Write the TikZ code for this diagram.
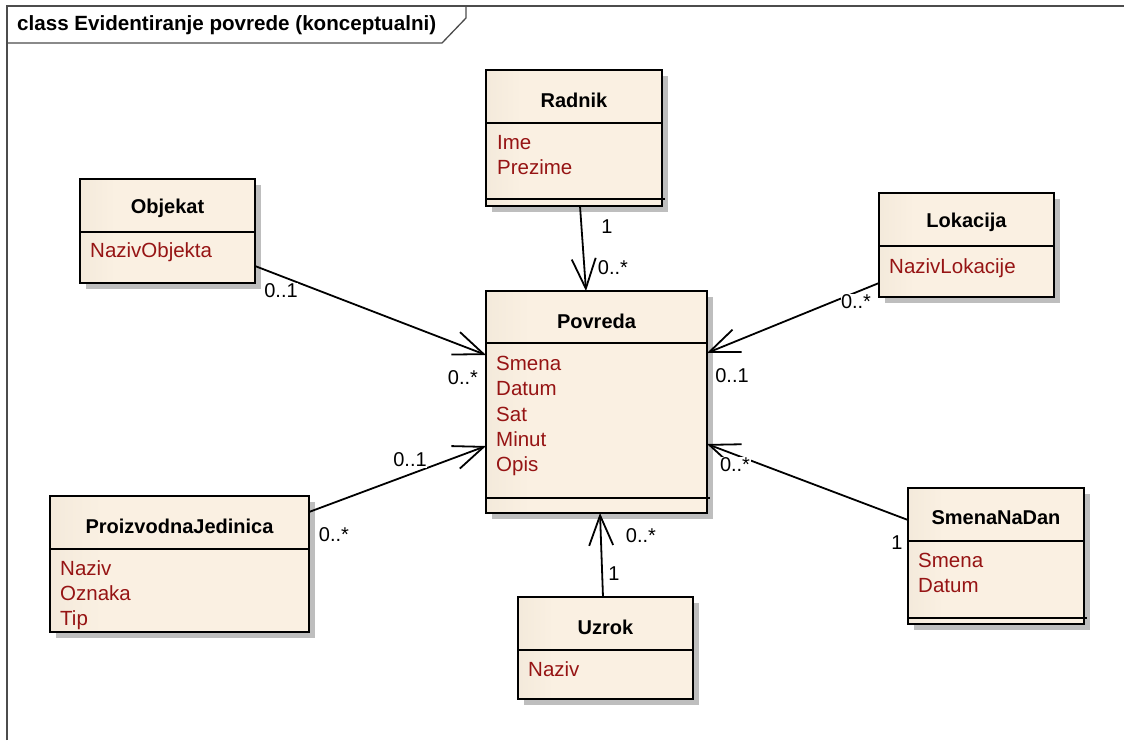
\documentclass[tikz,border=0pt]{standalone}
\usepackage{fontspec}
\setmainfont{Liberation Sans}
\usepackage{tikz}
\usetikzlibrary{arrows.meta,shadows}
\usepackage{color}

\definecolor{boxleft}{RGB}{228,218,202}
\definecolor{boxright}{RGB}{250,240,226}
\definecolor{attrred}{RGB}{150,20,20}
\definecolor{shadowgray}{RGB}{190,190,190}
\pgfdeclarehorizontalshading{classfill}{100bp}{color(0bp)=(boxleft); color(35bp)=(boxright); color(100bp)=(boxright)}

\tikzset{
  classbox/.style={draw, line width=1.8pt, shading=classfill, outer sep=0pt, inner sep=0pt,
    drop shadow={shadow xshift=6pt, shadow yshift=-6pt, fill=shadowgray, opacity=1}},
  classline/.style={line width=1.8pt},
  classname/.style={font=\bfseries\fontsize{20}{23}\selectfont, inner sep=0pt},
  classattr/.style={anchor=north west, align=left, inner sep=0pt, text=attrred,
    font=\fontsize{20.5}{25.3}\selectfont},
  assoc/.style={line width=1.8pt, -{Straight Barb[length=30pt,width=24pt]}},
  mult/.style={fill=white, inner sep=0.5pt, font=\fontsize{20}{22}\selectfont}
}

\begin{document}
\begin{tikzpicture}[x=1pt,y=-1pt]

 \useasboundingbox (0,0) rectangle (1124,740);

 % le cadre du diagramme
 \draw[line width=1.3pt, draw=black!70] (7,740) -- (7,6) -- (1124,6);
 \draw[line width=1.3pt, draw=black!70] (7,43) -- (442,43) -- (466,18) -- (466,6);
 \node[anchor=west, font=\bfseries\fontsize{20.6}{23}\selectfont, inner sep=0pt] (titre) at (17,25) {class Evidentiranje povrede (konceptualni)};

 % Radnik
 \node[classbox, minimum width=176, minimum height=136] (radnik) at (574,138) {};
 \draw[classline] ([yshift=-53]radnik.north west) -- ([yshift=-53]radnik.north east);
 \node[classname] (radnik-name) at ([yshift=-30]radnik.north) {Radnik};
 \node[classattr] (radnik-attr) at ([xshift=11,yshift=-65]radnik.north west) {Ime\\Prezime};
 \draw[classline] ([yshift=7]radnik.south west) -- ([xshift=3,yshift=7]radnik.south east);

 % Objekat
 \node[classbox, minimum width=175, minimum height=104] (objekat) at (167.5,231) {};
 \draw[classline] ([yshift=-53]objekat.north west) -- ([yshift=-53]objekat.north east);
 \node[classname] (objekat-name) at ([yshift=-29]objekat.north) {Objekat};
 \node[classattr] (objekat-attr) at ([xshift=10,yshift=-63]objekat.north west) {NazivObjekta};

 % Povreda
 \node[classbox, minimum width=221, minimum height=222] (povreda) at (596.5,402) {};
 \draw[classline] ([yshift=-52]povreda.north west) -- ([yshift=-52]povreda.north east);
 \node[classname] (povreda-name) at ([yshift=-30]povreda.north) {Povreda};
 \node[classattr] (povreda-attr) at ([xshift=10,yshift=-65]povreda.north west) {Smena\\Datum\\Sat\\Minut\\Opis};
 \draw[classline] ([yshift=15]povreda.south west) -- ([xshift=3,yshift=15]povreda.south east);

 % Lokacija
 \node[classbox, minimum width=175, minimum height=104] (lokacija) at (966.5,245) {};
 \draw[classline] ([yshift=-53]lokacija.north west) -- ([yshift=-53]lokacija.north east);
 \node[classname] (lokacija-name) at ([yshift=-29]lokacija.north) {Lokacija};
 \node[classattr] (lokacija-attr) at ([xshift=10,yshift=-65]lokacija.north west) {NazivLokacije};

 % ProizvodnaJedinica
 \node[classbox, minimum width=259, minimum height=136] (proizvodna) at (179.5,564) {};
 \draw[classline] ([yshift=-53]proizvodna.north west) -- ([yshift=-53]proizvodna.north east);
 \node[classname] (proizvodna-name) at ([yshift=-30]proizvodna.north) {ProizvodnaJedinica};
 \node[classattr] (proizvodna-attr) at ([xshift=10,yshift=-64]proizvodna.north west) {Naziv\\Oznaka\\Tip};

 % SmenaNaDan
 \node[classbox, minimum width=176, minimum height=136] (smenanadan) at (996,556) {};
 \draw[classline] ([yshift=-53]smenanadan.north west) -- ([yshift=-53]smenanadan.north east);
 \node[classname] (smenanadan-name) at ([yshift=-30]smenanadan.north) {SmenaNaDan};
 \node[classattr] (smenanadan-attr) at ([xshift=10,yshift=-65]smenanadan.north west) {Smena\\Datum};
 \draw[classline] ([yshift=6]smenanadan.south west) -- ([xshift=3,yshift=6]smenanadan.south east);

 % Uzrok
 \node[classbox, minimum width=175, minimum height=102] (uzrok) at (605.5,648) {};
 \draw[classline] ([yshift=-53]uzrok.north west) -- ([yshift=-53]uzrok.north east);
 \node[classname] (uzrok-name) at ([yshift=-30]uzrok.north) {Uzrok};
 \node[classattr] (uzrok-attr) at ([xshift=10,yshift=-64]uzrok.north west) {Naziv};

 % les associations
 \draw[assoc] ([xshift=6]radnik.south) -- ([xshift=-10.5]povreda.north);
 \draw[assoc] ([yshift=-35]objekat.east) -- ([yshift=47]povreda.west);
 \draw[assoc] ([yshift=-38]lokacija.west) -- ([yshift=49]povreda.east);
 \draw[assoc] ([yshift=52]proizvodna.east) -- ([yshift=-44]povreda.west);
 \draw[assoc] ([yshift=36]smenanadan.west) -- ([yshift=-42]povreda.east);
 \draw[assoc] ([xshift=-2.5]uzrok.north) -- ([xshift=3.5]povreda.south);

 % les multiplicités
 \node[mult] (m-radnik) at (607,227) {1};
 \node[mult] (m-radnik-pov) at (613,268) {0..*};
 \node[mult] (m-objekat) at (281,291) {0..1};
 \node[mult] (m-objekat-pov) at (463,378) {0..*};
 \node[mult] (m-lokacija) at (856,302) {0..*};
 \node[mult] (m-lokacija-pov) at (732,376) {0..1};
 \node[mult] (m-proizvodna) at (334,535) {0..*};
 \node[mult] (m-proizvodna-pov) at (410,460) {0..1};
 \node[mult] (m-smenanadan) at (897,543) {1};
 \node[mult] (m-smenanadan-pov) at (735,465) {0..*};
 \node[mult] (m-uzrok) at (614,574) {1};
 \node[mult] (m-uzrok-pov) at (641,536) {0..*};

\end{tikzpicture}
\end{document}
